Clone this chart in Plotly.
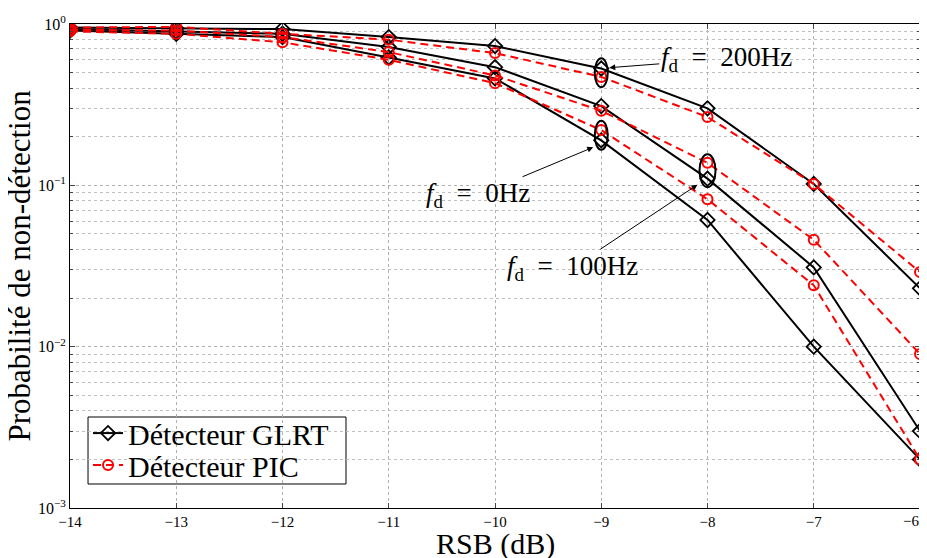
import numpy as np
import plotly.graph_objects as go

snr = [-14, -13, -12, -11, -10, -9, -8, -7, -6]
glrt_0 = [0.91, 0.87, 0.83, 0.62, 0.46, 0.19, 0.061, 0.010, 0.002]
glrt_100 = [0.93, 0.90, 0.87, 0.72, 0.54, 0.31, 0.11, 0.031, 0.003]
glrt_200 = [0.95, 0.94, 0.93, 0.83, 0.73, 0.53, 0.30, 0.102, 0.023]
pic_0 = [0.90, 0.87, 0.77, 0.60, 0.43, 0.22, 0.082, 0.024, 0.002]
pic_100 = [0.92, 0.91, 0.83, 0.67, 0.48, 0.29, 0.138, 0.046, 0.009]
pic_200 = [0.95, 0.96, 0.87, 0.80, 0.66, 0.47, 0.265, 0.102, 0.029]

y_tickvals = [1e-3, 1e-2, 1e-1, 1]
y_ticktext = ["10<sup>−3</sup>", "10<sup>−2</sup>", "10<sup>−1</sup>", "10<sup>0</sup>"]
x_tickvals = [-14, -13, -12, -11, -10, -9, -8, -7, -6]
x_ticktext = ["−14", "−13", "−12", "−11", "−10", "−9", "−8", "−7", "−6"]

x_title = "RSB (dB)"
y_title = "Probabilité de non-détection"

EQ = "\u2002=\u2002"
label_200 = "<i>f</i><sub>d</sub>" + EQ + "200Hz"
label_0 = "<i>f</i><sub>d</sub>" + EQ + "0Hz"
label_100 = "<i>f</i><sub>d</sub>" + EQ + "100Hz"

FONT = "Liberation Serif"

fig = go.Figure()

for i, ys in enumerate([glrt_0, glrt_100, glrt_200]):
    fig.add_trace(go.Scatter(
        x=snr, y=ys, mode="lines+markers", name="Détecteur GLRT",
        showlegend=(i == 0), legend="legend",
        line=dict(color="black", width=2),
        marker=dict(symbol="diamond-open", size=11, color="black", line=dict(width=1.8)),
    ))
for i, ys in enumerate([pic_0, pic_100, pic_200]):
    fig.add_trace(go.Scatter(
        x=snr, y=ys, mode="lines+markers", name="Détecteur PIC",
        showlegend=(i == 0), legend="legend2",
        line=dict(color="#ff0000", width=2, dash="8px,5px"),
        marker=dict(symbol="circle-open", size=10, color="#ff0000", line=dict(width=2)),
    ))

# plot area geometry (pixels per unit) used to size the ellipses around grouped points
PX_PER_DB = 850 / 8.0
PX_PER_DECADE = 484 / 3.0


def gm(a, b):
    return float(np.sqrt(a * b))


i9 = snr.index(-9)
i8 = snr.index(-8)
ellipses = [
    (-9, gm(glrt_200[i9], pic_200[i9]), 6.5, 14.5),
    (-9, gm(glrt_0[i9], pic_0[i9]), 6.5, 14.5),
    (-8, gm(glrt_100[i8], pic_100[i8]), 8, 16.5),
]
for xa, ya, rx, ry in ellipses:
    fig.add_shape(type="circle", xref="x", yref="y",
                  x0=xa - rx / PX_PER_DB, x1=xa + rx / PX_PER_DB,
                  y0=ya * 10 ** (-ry / PX_PER_DECADE), y1=ya * 10 ** (ry / PX_PER_DECADE),
                  line=dict(color="black", width=2))

ann = [
    (ellipses[0], label_200, 8, 5, 117, -9),
    (ellipses[1], label_0, -8, -12, -115, 48),
    (ellipses[2], label_100, -10, -14, -125, 83),
]
for (xa, ya, rx, ry), txt, xs, ys_, axp, ayp in ann:
    fig.add_annotation(x=xa, y=np.log10(ya), xref="x", yref="y",
                       xshift=xs, yshift=ys_, text=txt, showarrow=True,
                       ax=axp, ay=ayp, arrowhead=2, arrowsize=1.2, arrowwidth=1,
                       arrowcolor="black",
                       font=dict(family=FONT, size=27, color="black"))

# last x tick label, nudged left to stay inside the page (as in the reference)
fig.add_annotation(text=x_ticktext[-1], x=x_tickvals[-1], xref="x", y=0, yref="paper",
                   xanchor="center", yanchor="top", xshift=-9, yshift=-3,
                   showarrow=False, font=dict(family=FONT, size=15, color="black"))

# axis titles
fig.add_annotation(text=x_title, xref="paper", yref="paper", x=0.5, y=-0.074,
                   xanchor="center", yanchor="middle", showarrow=False,
                   font=dict(family=FONT, size=30, color="black"))
fig.add_annotation(text=y_title, xref="paper", yref="paper", x=-0.0605, y=0.5,
                   xanchor="center", yanchor="middle", showarrow=False, textangle=-90,
                   font=dict(family=FONT, size=31, color="black"))

# legend frame (two stacked legends inside one box)
fig.add_shape(type="rect", xref="paper", yref="paper",
              x0=0.0212, x1=0.3247, y0=0.0496, y1=0.188,
              line=dict(color="black", width=1), fillcolor="white", layer="below")

minor_vals = [k * 10.0 ** e for e in (-3, -2, -1) for k in range(2, 10)]

leg_common = dict(x=0.0212, xanchor="left", yanchor="middle",
                  bgcolor="rgba(0,0,0,0)", borderwidth=0,
                  font=dict(family=FONT, size=30), itemwidth=30)

fig.update_layout(
    width=927, height=558,
    margin=dict(l=62, r=15, t=16, b=58, autoexpand=False),
    paper_bgcolor="white", plot_bgcolor="white",
    font=dict(family=FONT, color="black", size=16),
    showlegend=True,
    legend=dict(y=0.1548, **leg_common),
    legend2=dict(y=0.0886, **leg_common),
    xaxis=dict(
        range=[-14, -6], tickvals=x_tickvals, ticktext=x_ticktext[:-1] + [""],
        ticks="inside", ticklen=5,
        showline=True, linecolor="black", linewidth=1, mirror="ticks",
        showgrid=True, gridcolor="#b0b0b0", griddash="dot", gridwidth=1,
        zeroline=False, automargin=False,
        tickfont=dict(size=15),
    ),
    yaxis=dict(
        type="log", range=[-3, 0], tickvals=y_tickvals, ticktext=y_ticktext,
        ticks="inside", ticklen=5,
        showline=True, linecolor="black", linewidth=1, mirror="ticks",
        showgrid=True, gridcolor="#b0b0b0", griddash="dot", gridwidth=1,
        zeroline=False, automargin=False,
        minor=dict(tickvals=minor_vals, ticks="inside", ticklen=3,
                   showgrid=True, gridcolor="#c0c0c0", griddash="dot", gridwidth=1),
        tickfont=dict(size=16),
    ),
)

fig.write_html("out.html")
